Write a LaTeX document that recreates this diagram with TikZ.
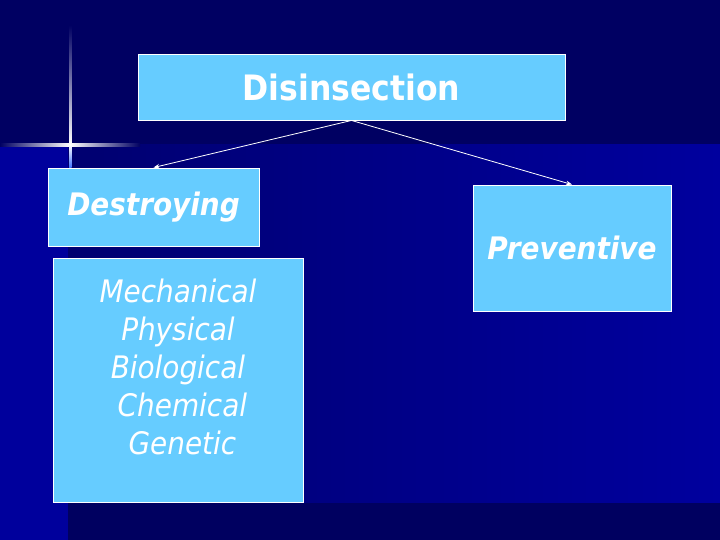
\documentclass[tikz,border=0pt]{standalone}
\usepackage{fontspec}
\setmainfont{DejaVu Sans Condensed}
\usetikzlibrary{arrows.meta}

\tikzset{
    mybox/.style={draw=white, line width=0.9pt, fill=myboxfill, text=white,
        inner sep=0pt},
    myarrow/.style={draw=white, line width=0.8pt, -{Stealth[length=6pt,width=4.5pt]}},
}

\begin{document}
\begin{tikzpicture}[x=1pt, y=-1pt]
    \definecolor{myboxfill}{RGB}{102,204,255}
    \definecolor{mytop}{RGB}{0,0,98}
    \definecolor{myleft}{RGB}{0,0,156}
    \definecolor{mymidl}{RGB}{0,0,112}
    \definecolor{mymidr}{RGB}{0,0,158}
    \definecolor{mybottom}{RGB}{0,0,96}
    \definecolor{myglow}{RGB}{60,110,255}

    \useasboundingbox (0,0) rectangle (720,540);

    % background of the slide
    \fill[mytop] (0,0) rectangle (720,145);
    \fill[myleft] (0,145) rectangle (68,540);
    \shade[left color=mymidl, right color=mymidr] (68,145) rectangle (720,503);
    \fill[mybottom] (68,503) rectangle (720,540);

    % sparkle
    \shade[left color=mytop, right color=white] (0,144) rectangle (70,146.5);
    \shade[left color=white, right color=mytop] (70,144) rectangle (140,146.5);
    \shade[top color=mytop, bottom color=white] (69,25) rectangle (71.5,145);
    \shade[top color=white, bottom color=myglow] (69,145) rectangle (71.5,168);

    \node[mybox, minimum width=427pt, minimum height=66pt,
        font=\fontsize{35}{40}\selectfont\bfseries] (disin) at (351.5,87) {Disinsection};

    \node[mybox, minimum width=211pt, minimum height=78pt,
        font=\fontsize{31}{36}\selectfont\bfseries\itshape] (destroy) at (153.5,207) {Destroying};

    \node[mybox, minimum width=198pt, minimum height=126pt,
        font=\fontsize{31}{36}\selectfont\bfseries\itshape] (prev) at (572,248) {Preventive};

    \node[mybox, minimum width=250pt, minimum height=244pt] (mechbox) at (178,380) {};
    \node[anchor=north, align=center, text=white, inner sep=0pt,
        font=\fontsize{31}{38}\selectfont\itshape] (mechtext) at ([yshift=-21pt]mechbox.north)
        {Mechanical\\Physical\\Biological\\\ Chemical\\\ Genetic};

    \draw[myarrow] (disin.south) -- (destroy.north);
    \draw[myarrow] (disin.south) -- (prev.north);
\end{tikzpicture}
\end{document}
